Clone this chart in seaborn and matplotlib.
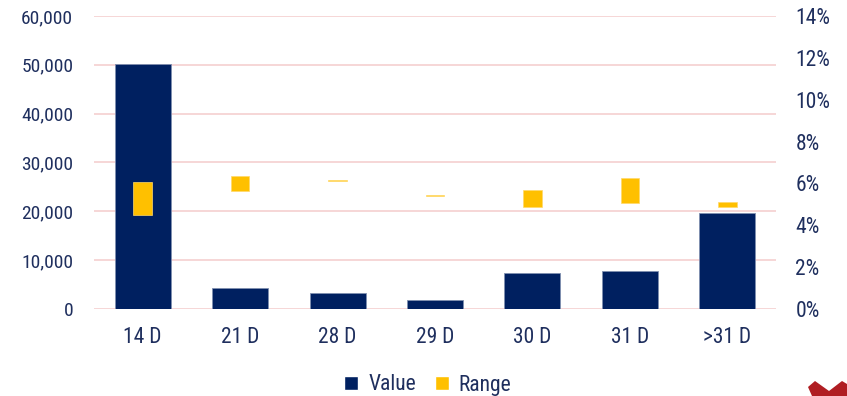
import numpy as np
import pandas as pd
import matplotlib
matplotlib.use('Agg')
import matplotlib.pyplot as plt
import seaborn as sns
from matplotlib.patches import Patch, Polygon
from matplotlib.ticker import FuncFormatter

sns.set_theme(style='white')
plt.rcParams['font.family'] = ['Roboto Condensed', 'Liberation Sans Narrow', 'Roboto', 'DejaVu Sans']

categories = ['14 D', '21 D', '28 D', '29 D', '30 D', '31 D', '>31 D']
values = [50200, 4350, 3200, 1850, 7450, 7800, 19750]
range_low = [4.48, 5.64, 6.10, 5.39, 4.89, 5.08, 4.89]
range_high = [6.07, 6.34, 6.14, 5.43, 5.69, 6.26, 5.11]

navy = '#002060'
gold = '#FFC000'
txt = '#1F2F5E'
grid_c = '#F6D3D3'
fs = 15.5

df = pd.DataFrame({'cat': categories, 'value': values})

fig = plt.figure(figsize=(8.47, 3.96), dpi=100)
ax = fig.add_axes([94 / 847, 1 - 309 / 396, (776 - 94) / 847, (309 - 16) / 396])

sns.barplot(data=df, x='cat', y='value', color=navy, saturation=1, width=0.575,
            edgecolor='#8090B0', linewidth=0.6, ax=ax, zorder=2)
ax.set_ylim(0, 60000)
ax.set_yticks(np.arange(0, 60001, 10000))
ax.yaxis.set_major_formatter(FuncFormatter(lambda v, p: f'{int(v):,}'))
ax.grid(axis='y', color=grid_c, linewidth=1.3, zorder=0)
ax.set_axisbelow(True)
ax.set_xlabel('')
ax.set_ylabel('')
ax.set_xlim(-0.5, len(categories) - 0.5)
for s in ax.spines.values():
    s.set_visible(False)
ax.tick_params(axis='y', length=0, pad=15, labelsize=14, labelcolor=txt)
ax.tick_params(axis='x', length=0, pad=13, labelsize=fs, labelcolor=txt)

ax2 = ax.twinx()
low = np.array(range_low)
high = np.array(range_high)
ax2.bar(np.arange(len(categories)), high - low, bottom=low, width=0.19,
        color=gold, edgecolor='#FFD86A', linewidth=0.5, zorder=3)
ax2.set_ylim(0, 14)
ax2.set_yticks(np.arange(0, 15, 2))
ax2.yaxis.set_major_formatter(FuncFormatter(lambda v, p: f'{int(v)}%'))
for s in ax2.spines.values():
    s.set_visible(False)
ax2.tick_params(axis='y', length=0, pad=14, labelsize=fs, labelcolor=txt)
ax2.grid(False)

handles = [Patch(facecolor=navy, label='Value'), Patch(facecolor=gold, label='Range')]
fig.legend(handles=handles, loc='center', bbox_to_anchor=(428 / 847, 1 - 385 / 396),
           ncol=2, frameon=False, fontsize=fs, labelcolor=txt,
           handlelength=0.65, handleheight=0.65, handletextpad=0.45, columnspacing=0.9)

# corner logo fragment
logo = Polygon([[808 / 847, 1 - 387 / 396], [815 / 847, 1 - 381 / 396], [829 / 847, 1 - 391 / 396],
                [842 / 847, 1 - 381 / 396], [847 / 847, 1 - 384 / 396], [847 / 847, 0],
                [812 / 847, 0]], closed=True, transform=fig.transFigure, facecolor='#B01E23',
               edgecolor='none')
fig.patches.append(logo)

fig.savefig('out.png', dpi=100)
